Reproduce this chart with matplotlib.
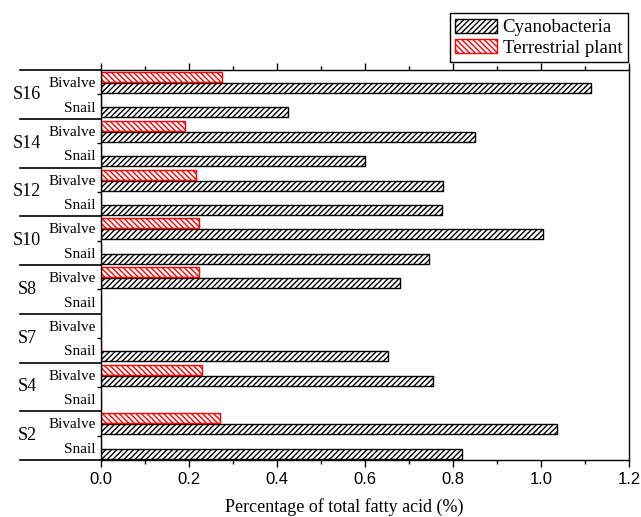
import numpy as np
import matplotlib
matplotlib.use('Agg')
import matplotlib.pyplot as plt
import matplotlib.transforms as mtransforms

sites = ['S2', 'S4', 'S7', 'S8', 'S10', 'S12', 'S14', 'S16']
animals = ['Snail', 'Bivalve']
# values per site: [Snail, Bivalve]
cyano = [[0.82, 1.037], [0.0, 0.755], [0.652, 0.0], [0.0, 0.68],
         [0.745, 1.005], [0.775, 0.777], [0.60, 0.85], [0.425, 1.114]]
terr = [[0.0, 0.27], [0.0, 0.23], [0.0, 0.0], [0.0, 0.222],
        [0.0, 0.222], [0.0, 0.215], [0.0, 0.19], [0.0, 0.275]]

serif = 'Liberation Serif'
sans = 'Liberation Sans'
plt.rcParams['hatch.linewidth'] = 1.0

fig = plt.figure(figsize=(6.41, 5.17), dpi=100)
ax = fig.add_axes([101/641, 1-460/517, 528/641, 390/517])

cy = np.array(cyano).ravel()
tr = np.array(terr).ravel()
slots = np.arange(len(cy))

ax.barh(slots+0.26, cy, height=0.41, left=0, facecolor='white', edgecolor='black',
        hatch='//////', linewidth=1.0, label='Cyanobacteria')
ax.barh(slots+0.71, tr, height=0.41, left=0, facecolor='white', edgecolor='red',
        hatch='\\\\\\\\\\\\', linewidth=1.0, label='Terrestrial plant')

ax.set_xlim(0, 1.2)
ax.set_ylim(0, 16)

# x ticks
ax.set_xticks(np.arange(0, 1.21, 0.2))
ax.set_xticks(np.arange(0.1, 1.2, 0.2), minor=True)
ax.set_xticklabels(['%.1f' % v for v in np.arange(0, 1.21, 0.2)], fontfamily=sans, fontsize=12)
ax.tick_params(axis='x', which='major', direction='out', length=5, width=1, top=True, pad=4)
ax.tick_params(axis='x', which='minor', direction='out', length=3, width=1, top=True)

# y labels: animals
ax.set_yticks(slots+0.5)
ax.set_yticklabels(animals*len(sites), fontfamily=serif, fontsize=11)
ax.tick_params(axis='y', which='major', length=0, pad=4)
ax.set_yticks(np.arange(len(sites))*2+1.0, minor=True)
ax.tick_params(axis='y', which='minor', direction='out', length=3, width=1)

for sp in ax.spines.values():
    sp.set_linewidth(1.0)

# site labels and separators
trans = mtransforms.blended_transform_factory(ax.transAxes, ax.transData)
for i, s in enumerate(sites):
    ax.text(-0.140, 2*i+1.0, s, transform=trans, ha='center', va='center',
            fontfamily=serif, fontsize=13)
for i in range(len(sites)+1):
    ax.plot([-0.153, 0], [2*i, 2*i], color='black', lw=1.2, transform=trans, clip_on=False)

ax.set_xlabel('Percentage of total fatty acid (%)', fontfamily=serif, fontsize=13)
ax.xaxis.set_label_coords((344-101)/528, -0.098)

leg = fig.legend(loc='upper right', bbox_to_anchor=(628/641, 1-13/517), prop={'family': serif, 'size': 13.6},
                 fancybox=False, edgecolor='black', framealpha=1, handlelength=2.2,
                 handleheight=0.75, borderpad=0.3, labelspacing=0.15, handletextpad=0.3,
                 borderaxespad=0)
leg.get_frame().set_linewidth(1.0)

fig.savefig('out.png', dpi=100)
